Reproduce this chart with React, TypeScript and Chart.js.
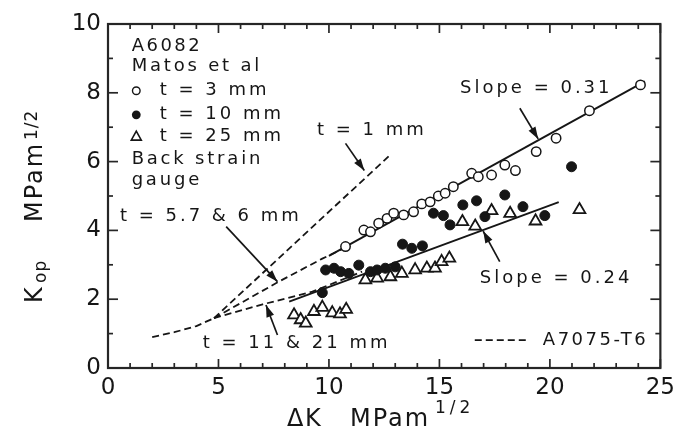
import React, { useEffect, useRef } from 'react';
import { Chart, registerables } from 'chart.js';

Chart.register(...registerables);

// ---- data (ΔK, Kop in MPa·m^1/2) ----
const t3X = [10.75, 11.58, 11.88, 12.25, 12.63, 12.93, 13.38, 13.83, 14.2, 14.58, 14.95, 15.26, 15.63, 16.46, 16.76, 17.36, 17.96, 18.44, 19.38, 20.28, 21.79, 24.1];
const t3Y = [3.53, 4.01, 3.96, 4.21, 4.35, 4.5, 4.45, 4.54, 4.77, 4.83, 5.0, 5.08, 5.27, 5.66, 5.56, 5.61, 5.9, 5.74, 6.29, 6.68, 7.48, 8.23];

const t10X = [9.7, 9.85, 10.23, 10.53, 10.9, 11.35, 11.88, 12.18, 12.55, 13.0, 13.33, 13.75, 14.23, 14.73, 15.18, 15.48, 16.06, 16.68, 17.06, 17.96, 18.78, 19.77, 20.98];
const t10Y = [2.19, 2.85, 2.9, 2.8, 2.75, 2.99, 2.8, 2.85, 2.9, 2.94, 3.6, 3.48, 3.55, 4.5, 4.43, 4.16, 4.74, 4.86, 4.4, 5.03, 4.69, 4.43, 5.85];

const t25X = [8.42, 8.72, 8.95, 9.32, 9.7, 10.15, 10.5, 10.78, 11.65, 12.18, 12.78, 13.3, 13.9, 14.43, 14.8, 15.1, 15.45, 16.04, 16.62, 17.36, 18.2, 19.35, 21.34];
const t25Y = [1.54, 1.4, 1.3, 1.64, 1.76, 1.6, 1.57, 1.7, 2.56, 2.61, 2.65, 2.75, 2.85, 2.9, 2.9, 3.09, 3.19, 4.25, 4.12, 4.57, 4.49, 4.27, 4.6];

// A7075-T6 trend curves (dashed)
const a7075BaseX = [2, 3, 4, 4.8];
const a7075BaseY = [0.9, 1.04, 1.22, 1.45];
const a7075t1X = [4.8, 12.7];
const a7075t1Y = [1.45, 6.15];
const a7075t57X = [4.8, 7.7, 9.7, 10.75];
const a7075t57Y = [1.45, 2.5, 3.18, 3.5];
const a7075t11X = [4.8, 7.0, 9.25, 11.5];
const a7075t11Y = [1.45, 1.85, 2.22, 2.8];

// fitted lines (solid)
const slope031X = [10.0, 24.3];
const slope031Y = [3.26, 8.33];
const slope024X = [8.2, 20.4];
const slope024Y = [1.93, 4.82];

const xTickValues = [0, 5, 10, 15, 20, 25];
const yTickValues = [0, 2, 4, 6, 8, 10];

const FONT = '"DejaVu Sans", Verdana, sans-serif';
const INK = '#161616';

const pts = (xs: number[], ys: number[]) => xs.map((x, i) => ({ x, y: ys[i] }));

function drawText(ctx: CanvasRenderingContext2D, s: string, x: number, y: number, size: number, spacing: number, baseline: CanvasTextBaseline = 'middle') {
  ctx.font = `${size}px ${FONT}`;
  (ctx as any).letterSpacing = `${spacing}px`;
  ctx.textAlign = 'left';
  ctx.textBaseline = baseline;
  ctx.fillText(s, x, y);
  (ctx as any).letterSpacing = '0px';
}

function arrow(ctx: CanvasRenderingContext2D, x1: number, y1: number, x2: number, y2: number) {
  ctx.beginPath();
  ctx.moveTo(x1, y1);
  ctx.lineTo(x2, y2);
  ctx.lineWidth = 1.7;
  ctx.stroke();
  const ang = Math.atan2(y2 - y1, x2 - x1);
  const L = 12, W = 4;
  const bx = x2 - L * Math.cos(ang), by = y2 - L * Math.sin(ang);
  ctx.beginPath();
  ctx.moveTo(x2, y2);
  ctx.lineTo(bx + W * Math.sin(ang), by - W * Math.cos(ang));
  ctx.lineTo(bx - W * Math.sin(ang), by + W * Math.cos(ang));
  ctx.closePath();
  ctx.fill();
}

const overlay = {
  id: 'overlay',
  afterDatasetsDraw(chart: any) {
    const { ctx, chartArea: a, scales } = chart;
    const X = (v: number) => scales.x.getPixelForValue(v);
    const Y = (v: number) => scales.y.getPixelForValue(v);
    ctx.save();
    ctx.strokeStyle = '#262626';
    ctx.fillStyle = INK;
    // frame
    ctx.lineWidth = 2.2;
    ctx.strokeRect(a.left, a.top, a.right - a.left, a.bottom - a.top);
    // inward ticks
    ctx.lineWidth = 1.7;
    const seg = (x1: number, y1: number, x2: number, y2: number) => {
      ctx.beginPath(); ctx.moveTo(x1, y1); ctx.lineTo(x2, y2); ctx.stroke();
    };
    for (let v = 0; v <= 25; v++) {
      const len = v % 5 === 0 ? 9 : 5;
      const px = X(v);
      seg(px, a.bottom, px, a.bottom - len);
      seg(px, a.top, px, a.top + len);
    }
    for (let v = 0; v <= 10; v++) {
      const len = v % 2 === 0 ? 10 : 5;
      const py = Y(v);
      seg(a.left, py, a.left + len, py);
      seg(a.right, py, a.right - len, py);
    }

    // legend block
    ctx.fillStyle = INK;
    drawText(ctx, 'A6082', X(1.07), Y(9.34), 18, 2.5);
    drawText(ctx, 'Matos et al', X(1.07), Y(8.76), 18, 2.8);
    const lx = X(1.28);
    ctx.lineWidth = 1.4;
    ctx.strokeStyle = INK;
    ctx.fillStyle = '#fff';
    ctx.beginPath(); ctx.arc(lx, Y(8.06), 3.8, 0, Math.PI * 2); ctx.fill(); ctx.stroke();
    ctx.fillStyle = INK;
    ctx.beginPath(); ctx.arc(lx, Y(7.36), 4.4, 0, Math.PI * 2); ctx.fill();
    ctx.lineWidth = 1.6;
    const ty = Y(6.74);
    ctx.beginPath(); ctx.moveTo(lx, ty - 5); ctx.lineTo(lx + 5, ty + 4); ctx.lineTo(lx - 5, ty + 4); ctx.closePath(); ctx.stroke();
    drawText(ctx, 't = 3 mm', X(2.34), Y(8.06), 18, 3);
    drawText(ctx, 't = 10 mm', X(2.34), Y(7.36), 18, 3);
    drawText(ctx, 't = 25 mm', X(2.34), Y(6.74), 18, 3);
    drawText(ctx, 'Back strain', X(1.07), Y(6.06), 18, 2.8);
    drawText(ctx, 'gauge', X(1.07), Y(5.46), 18, 2.8);

    // annotations
    ctx.strokeStyle = INK;
    drawText(ctx, 't = 1 mm', X(9.46), Y(6.92), 18, 3);
    arrow(ctx, X(10.75), Y(6.53), X(11.6), Y(5.74));
    drawText(ctx, 'Slope = 0.31', X(15.93), Y(8.14), 18, 3);
    arrow(ctx, X(18.64), Y(7.55), X(19.47), Y(6.66));
    drawText(ctx, 't = 5.7 & 6 mm', X(0.54), Y(4.42), 18, 3);
    arrow(ctx, X(5.35), Y(4.11), X(7.67), Y(2.51));
    drawText(ctx, 't = 11 & 21 mm', X(4.29), Y(0.72), 18, 3);
    arrow(ctx, X(7.67), Y(0.96), X(7.15), Y(1.83));
    drawText(ctx, 'Slope = 0.24', X(16.83), Y(2.61), 18, 3);
    arrow(ctx, X(17.73), Y(3.09), X(16.98), Y(3.98));

    // A7075 legend entry
    ctx.save();
    ctx.setLineDash([7, 4]);
    ctx.lineWidth = 1.8;
    ctx.beginPath(); ctx.moveTo(X(16.6), Y(0.81)); ctx.lineTo(X(18.93), Y(0.81)); ctx.stroke();
    ctx.restore();
    drawText(ctx, 'A7075-T6', X(19.68), Y(0.81), 18, 2.5);

    // x-axis title
    ctx.fillStyle = INK;
    drawText(ctx, 'ΔK', 287, 426, 24, 1.5, 'alphabetic');
    drawText(ctx, 'MPam', 350, 426, 24, 2, 'alphabetic');
    drawText(ctx, '1/2', 435, 413, 17, 4, 'alphabetic');

    // y-axis title (rotated)
    ctx.save();
    ctx.translate(42, 303);
    ctx.rotate(-Math.PI / 2);
    drawText(ctx, 'K', 0, 0, 24, 1, 'alphabetic');
    drawText(ctx, 'op', 20, 4, 17, 1, 'alphabetic');
    drawText(ctx, 'MPam', 81, 0, 24, 2, 'alphabetic');
    drawText(ctx, '1/2', 163, -5, 17, 1, 'alphabetic');
    ctx.restore();

    ctx.restore();
  },
};

export default function App() {
  const ref = useRef<HTMLCanvasElement | null>(null);
  useEffect(() => {
    if (!ref.current) return;
    const dashed = (xs: number[], ys: number[]) => ({
      type: 'line' as const,
      data: pts(xs, ys),
      showLine: true,
      borderColor: INK,
      borderWidth: 1.8,
      borderDash: [7, 4],
      pointRadius: 0,
      fill: false,
      tension: 0,
      order: 5,
    });
    const solid = (xs: number[], ys: number[]) => ({
      type: 'line' as const,
      data: pts(xs, ys),
      showLine: true,
      borderColor: INK,
      borderWidth: 1.9,
      pointRadius: 0,
      fill: false,
      tension: 0,
      order: 4,
    });
    const chart = new Chart(ref.current, {
      type: 'scatter',
      data: {
        datasets: [
          {
            label: 't = 3 mm',
            data: pts(t3X, t3Y),
            pointStyle: 'circle',
            pointRadius: 4.7,
            pointBorderWidth: 1.5,
            pointBackgroundColor: '#ffffff',
            pointBorderColor: INK,
            order: 1,
          },
          {
            label: 't = 10 mm',
            data: pts(t10X, t10Y),
            pointStyle: 'circle',
            pointRadius: 5,
            pointBorderWidth: 1,
            pointBackgroundColor: INK,
            pointBorderColor: INK,
            order: 2,
          },
          {
            label: 't = 25 mm',
            data: pts(t25X, t25Y),
            pointStyle: 'triangle',
            pointRadius: 6.8,
            pointBorderWidth: 1.8,
            pointBackgroundColor: '#ffffff',
            pointBorderColor: INK,
            order: 3,
          },
          solid(slope031X, slope031Y),
          solid(slope024X, slope024Y),
          dashed(a7075BaseX, a7075BaseY),
          dashed(a7075t1X, a7075t1Y),
          dashed(a7075t57X, a7075t57Y),
          dashed(a7075t11X, a7075t11Y),
        ] as any,
      },
      options: {
        animation: false,
        responsive: false,
        layout: { padding: { top: 24, right: 18, left: 0, bottom: 0 } },
        plugins: { legend: { display: false }, tooltip: { enabled: false } },
        scales: {
          x: {
            type: 'linear',
            min: 0,
            max: 25,
            grid: { display: false, drawTicks: false },
            border: { display: false },
            afterBuildTicks: (s: any) => { s.ticks = xTickValues.map((v) => ({ value: v })); },
            ticks: { autoSkip: false, maxRotation: 0, padding: 6, color: INK, font: { size: 23, family: FONT } },
            afterFit: (s: any) => { s.height = 64; },
          },
          y: {
            type: 'linear',
            min: 0,
            max: 10,
            grid: { display: false, drawTicks: false },
            border: { display: false },
            afterBuildTicks: (s: any) => { s.ticks = yTickValues.map((v) => ({ value: v })); },
            ticks: { autoSkip: false, padding: 7, color: INK, font: { size: 23, family: FONT } },
            afterFit: (s: any) => { s.width = 108; },
          },
        },
      } as any,
      plugins: [overlay],
    });
    return () => chart.destroy();
  }, []);
  return (
    <canvas
      ref={ref}
      width={681}
      height={432}
      style={{ position: 'absolute', left: 0, top: 0, width: 681, height: 432, background: '#fff' }}
    />
  );
}
